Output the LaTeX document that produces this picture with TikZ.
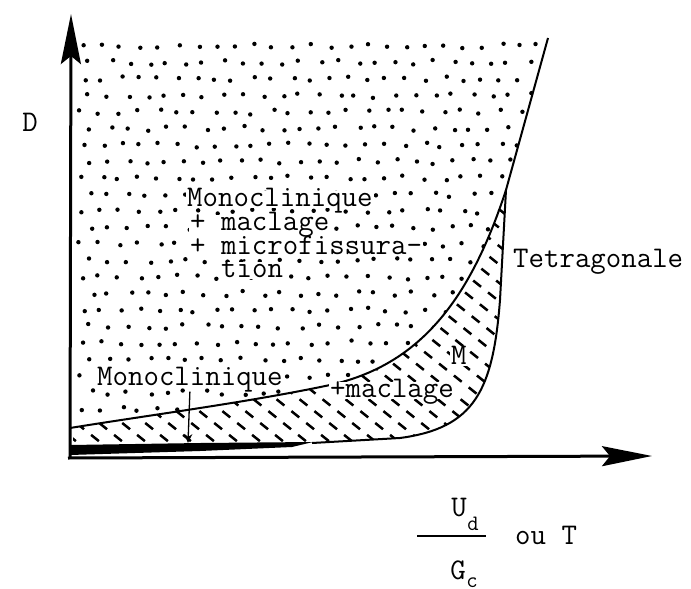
\documentclass[tikz,border=0pt]{standalone}
\usepackage{fontspec}
\usetikzlibrary{arrows.meta}
\newcommand{\tw}{\ttfamily\fontsize{30}{34}\selectfont}
\newcommand{\tws}{\ttfamily\fontsize{22}{26}\selectfont}

\begin{document}
\begin{tikzpicture}[x=1pt,y=-1pt,
        lab/.style={font=\tw, fill=white, inner xsep=1pt, inner ysep=1.5pt, text height=14pt, text depth=0pt, anchor=west},
        txt/.style={font=\tw, inner sep=0pt},
        axe/.style={line width=3pt, -{Stealth[length=50pt,width=20pt,inset=8pt]}},
        courbe/.style={line width=2pt},
        hachure/.style={line width=2.5pt, dash pattern=on 10pt off 9pt},
        fleche/.style={line width=1.3pt, -{Stealth[length=9pt,width=8pt]}}]
    \useasboundingbox (0,0) rectangle (691,589);
        \begin{scope}
            \clip (73,34) -- (549,34) -- (506,190) .. controls (470,300) and (420,365) .. (330,385) .. controls (250,402) and (150,415) .. (73,428) -- cycle;
            \pgfmathsetseed{11}
            \foreach \r in {0,...,23} \foreach \c in {0,...,25} \fill ({82+19*\c+9*mod(\r,2)+4*rand},{46+16.5*\r+2.5*rand}) circle (2.2pt);
        \end{scope}
        \begin{scope}
            \clip (73,428) .. controls (150,415) and (250,402) .. (330,385) .. controls (420,365) and (470,300) .. (506,190) -- (500,300) .. controls (493,390) and (475,428) .. (400,438) -- (312,443) -- (73,447) -- cycle;
            \foreach \k in {-380,-357,...,470} \draw[hachure] (\k,150) -- ++(400,320);
        \end{scope}

        \draw[courbe] (548,38) -- (506,190) .. controls (470,300) and (420,365) .. (330,385) .. controls (250,402) and (150,415) .. (70,428); \draw[courbe] (506,190) -- (500,300) .. controls (493,390) and (475,428) .. (400,438) -- (312,443);
        \fill (70,445) -- (200,443) -- (313,442) -- (292,447) -- (200,451) -- (70,455) -- cycle;

        \coordinate (O) at (70,458); \coordinate (ytip) at (71,14); \coordinate (xtip) at (652,456); \coordinate (cible) at (188,443);
        \draw[axe] (O) -- (ytip); \draw[axe] ([xshift=-2pt]O) -- (xtip);

        \node[txt] (D) at (30,122) {D};
        \node[lab] (mono1) at (186,199) {Monoclinique}; \node[lab] (mono2) at (189,223) {+ maclage}; \node[lab] (mono3) at (189,247) {+ microfissura-}; \node[lab] (mono4) at (220,270) {tion};
        \node[lab] (monob) at (96,378) {Monoclinique};
        \draw[fleche] ([yshift=-5pt]monob.south) -- (cible);
        \node[lab] (m) at (450,357) {M}; \node[lab] (macl) at (329,390) {+maclage};
        \node[txt, anchor=west] (tetra) at (513,262) {Tetragonale};

        \node[txt] (u) at (459,508) {U}; \node[txt, font=\tws] (d) at (473,524) {d};
        \coordinate (fg) at (417,536); \coordinate (fd) at (486,536); \draw[line width=1.2pt] (fg) -- (fd);
        \node[txt] (g) at (458,570) {G}; \node[txt, font=\tws] (c) at (472,583) {c};
        \node[txt, anchor=west] (ou) at (515,535) {ou T};
\end{tikzpicture}
\end{document}
